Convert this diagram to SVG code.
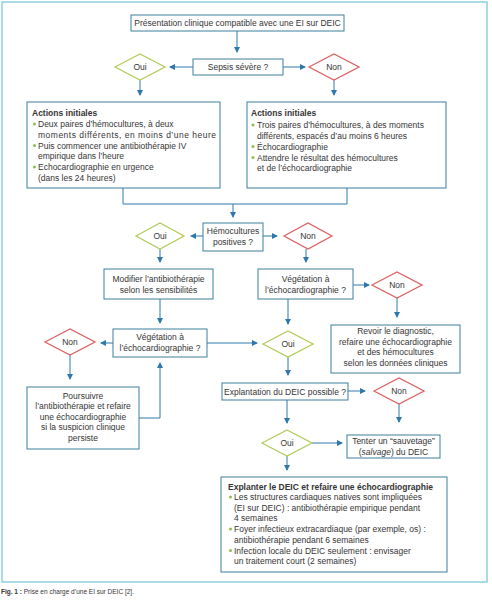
<svg xmlns="http://www.w3.org/2000/svg" width="492" height="600" viewBox="0 0 492 600">
<defs>
<marker id="ah" markerUnits="userSpaceOnUse" markerWidth="6" markerHeight="6" refX="5" refY="3" orient="auto">
<path d="M0,0 L6,3 L0,6 z" fill="#2f78ad"/>
</marker>
</defs>
<style>
.box{fill:#fff;stroke:#3c7f9c;stroke-width:1}
.t{font-family:"Liberation Sans",Arial,sans-serif;font-size:8.5px;fill:#353535}
.c{text-anchor:middle}
.b{font-weight:bold}
.oui{fill:#fff;stroke:#b3cc5c;stroke-width:1.3}
.non{fill:#fff;stroke:#dc6262;stroke-width:1.3}
.ln{fill:none;stroke:#2f78ad;stroke-width:1}
.ar{fill:none;stroke:#2f78ad;stroke-width:1;marker-end:url(#ah)}
.dot{fill:#8cbf4a}
</style>
<rect x="0" y="0" width="492" height="600" fill="#fff"/>
<rect x="2" y="2" width="485" height="580" fill="#fff" stroke="#8fd0de" stroke-width="1.5"/>

<g id="connectors">
<path class="ar" d="M237,31 V52"/>
<path class="ar" d="M193,67 H170"/>
<path class="ar" d="M283,67 H305"/>
<path class="ar" d="M140,80 V95"/>
<path class="ar" d="M334,80 V95"/>
<path class="ln" d="M123,188 V204 H347 V188"/>
<path class="ar" d="M233,204 V217"/>
<path class="ar" d="M203,236 H191"/>
<path class="ar" d="M263,236 H277"/>
<path class="ar" d="M160,249 V262"/>
<path class="ar" d="M306,249 V262"/>
<path class="ar" d="M160,299 V323"/>
<path class="ar" d="M113,343 H101"/>
<path class="ar" d="M70,355 V379"/>
<path class="ar" d="M139,418 H160 V363"/>
<path class="ar" d="M207,343 H257"/>
<path class="ar" d="M288,299 V324"/>
<path class="ar" d="M353,285 H369"/>
<path class="ar" d="M397,298 V317"/>
<path class="ar" d="M288,357 V375"/>
<path class="ar" d="M348,391 H365"/>
<path class="ar" d="M399,404 V422"/>
<path class="ar" d="M287,400 V423"/>
<path class="ar" d="M312,443 H342"/>
<path class="ar" d="M287,456 V470"/>
</g>

<g id="n-presentation">
<rect class="box" x="131" y="15" width="213" height="16"/>
<text class="t c" x="237.5" y="26">Présentation clinique compatible avec une EI sur DEIC</text>
</g>
<g id="n-sepsis">
<rect class="box" x="193" y="59" width="90" height="16"/>
<text class="t c" x="238" y="70">Sepsis sévère ?</text>
</g>
<g id="n-oui1">
<polygon class="oui" points="115,67 140,54 165,67 140,80"/>
<text class="t c" x="140" y="70">Oui</text>
</g>
<g id="n-non1">
<polygon class="non" points="309,67 334,54 359,67 334,80"/>
<text class="t c" x="334" y="70">Non</text>
</g>

<g id="n-actions-left">
<rect class="box" x="27" y="102" width="193" height="86"/>
<text class="t b" x="32" y="116">Actions initiales</text>
<circle class="dot" cx="34.5" cy="124" r="1.5"/>
<text class="t" x="38" y="127">Deux paires d’hémocultures, à deux</text>
<text class="t" x="38" y="137.5" textLength="178" lengthAdjust="spacing">moments différents, en moins d’une heure</text>
<circle class="dot" cx="34.5" cy="145.5" r="1.5"/>
<text class="t" x="38" y="148.5">Puis commencer une antibiothérapie IV</text>
<text class="t" x="38" y="159">empirique dans l’heure</text>
<circle class="dot" cx="34.5" cy="167" r="1.5"/>
<text class="t" x="38" y="170">Echocardiographie en urgence</text>
<text class="t" x="38" y="180.5">(dans les 24 heures)</text>
</g>

<g id="n-actions-right">
<rect class="box" x="247" y="102" width="199" height="86"/>
<text class="t b" x="251" y="116">Actions initiales</text>
<circle class="dot" cx="253" cy="125" r="1.5"/>
<text class="t" x="257" y="128">Trois paires d’hémocultures, à des moments</text>
<text class="t" x="257" y="138.5">différents, espacés d’au moins 6 heures</text>
<circle class="dot" cx="253" cy="146.5" r="1.5"/>
<text class="t" x="257" y="149.5">Échocardiographie</text>
<circle class="dot" cx="253" cy="157.5" r="1.5"/>
<text class="t" x="257" y="160.5">Attendre le résultat des hémocultures</text>
<text class="t" x="257" y="171">et de l’échocardiographie</text>
</g>

<g id="n-hemo">
<rect class="box" x="203" y="223" width="60" height="28"/>
<text class="t c" x="233" y="234">Hémocultures</text>
<text class="t c" x="233" y="245">positives ?</text>
</g>
<g id="n-oui2">
<polygon class="oui" points="136,236 160,223 184,236 160,249"/>
<text class="t c" x="160" y="239">Oui</text>
</g>
<g id="n-non2">
<polygon class="non" points="284,236 308,223 332,236 308,249"/>
<text class="t c" x="308" y="239">Non</text>
</g>

<g id="n-modifier">
<rect class="box" x="104" y="269" width="109" height="30"/>
<text class="t c" x="158.5" y="282">Modifier l’antibiothérapie</text>
<text class="t c" x="158.5" y="293">selon les sensibilités</text>
</g>
<g id="n-veg-left">
<rect class="box" x="113" y="329" width="94" height="28"/>
<text class="t c" x="160" y="340">Végétation à</text>
<text class="t c" x="160" y="351">l’échocardiographie ?</text>
</g>
<g id="n-non3">
<polygon class="non" points="45,342 70,329 95,342 70,355"/>
<text class="t c" x="70" y="345">Non</text>
</g>
<g id="n-poursuivre">
<rect class="box" x="27" y="387" width="112" height="62"/>
<text class="t c" x="83" y="398.5">Poursuivre</text>
<text class="t c" x="83" y="409">l’antibiothérapie et refaire</text>
<text class="t c" x="83" y="419.5">une échocardiographie</text>
<text class="t c" x="83" y="430">si la suspicion clinique</text>
<text class="t c" x="83" y="440.5">persiste</text>
</g>

<g id="n-veg-right">
<rect class="box" x="258" y="269" width="95" height="30"/>
<text class="t c" x="305.5" y="282">Végétation à</text>
<text class="t c" x="305.5" y="293">l’échocardiographie ?</text>
</g>
<g id="n-non4">
<polygon class="non" points="372,285 397,272 422,285 397,298"/>
<text class="t c" x="397" y="288">Non</text>
</g>
<g id="n-revoir">
<rect class="box" x="331" y="325" width="129" height="48"/>
<text class="t c" x="395.5" y="334">Revoir le diagnostic,</text>
<text class="t c" x="395.5" y="344.5">refaire une échocardiographie</text>
<text class="t c" x="395.5" y="355">et des hémocultures</text>
<text class="t c" x="395.5" y="365.5">selon les données cliniques</text>
</g>
<g id="n-oui3">
<polygon class="oui" points="263,344 288,331 313,344 288,357"/>
<text class="t c" x="288" y="347">Oui</text>
</g>

<g id="n-explantation">
<rect class="box" x="222" y="383" width="126" height="17"/>
<text class="t c" x="285" y="394.5">Explantation du DEIC possible ?</text>
</g>
<g id="n-non5">
<polygon class="non" points="374,391 399,378 424,391 399,404"/>
<text class="t c" x="399" y="394">Non</text>
</g>
<g id="n-tenter">
<rect class="box" x="347" y="435" width="93" height="23"/>
<text class="t c" x="393.5" y="444">Tenter un “sauvetage”</text>
<text class="t c" x="393.5" y="454.5">(<tspan font-style="italic">salvage</tspan>) du DEIC</text>
</g>
<g id="n-oui4">
<polygon class="oui" points="262,443 287,430 312,443 287,456"/>
<text class="t c" x="287" y="446">Oui</text>
</g>

<g id="n-explanter">
<rect class="box" x="221" y="477" width="226" height="95"/>
<text class="t b" x="228" y="490">Explanter le DEIC et refaire une échocardiographie</text>
<circle class="dot" cx="230.5" cy="497" r="1.5"/>
<text class="t" x="234" y="500">Les structures cardiaques natives sont impliquées</text>
<text class="t" x="234" y="510.5">(EI sur DEIC) : antibiothérapie empirique pendant</text>
<text class="t" x="234" y="521">4 semaines</text>
<circle class="dot" cx="230.5" cy="529" r="1.5"/>
<text class="t" x="234" y="532">Foyer infectieux extracardiaque (par exemple, os) :</text>
<text class="t" x="234" y="542.5">antibiothérapie pendant 6 semaines</text>
<circle class="dot" cx="230.5" cy="550.5" r="1.5"/>
<text class="t" x="234" y="553.5">Infection locale du DEIC seulement : envisager</text>
<text class="t" x="234" y="564">un traitement court (2 semaines)</text>
</g>

<text class="t" x="1" y="594" style="font-size:6.5px"><tspan font-weight="bold">Fig. 1 :</tspan> Prise en charge d’une EI sur DEIC [2].</text>
</svg>
